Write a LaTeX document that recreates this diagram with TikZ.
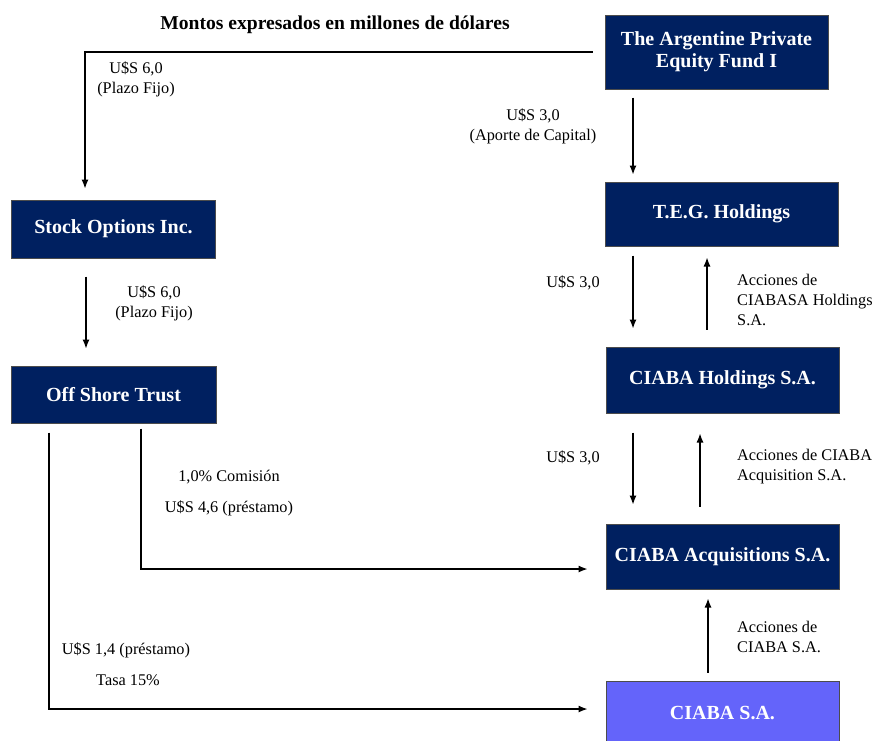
\documentclass[tikz,border=0pt]{standalone}
\usepackage{fontspec}
\setmainfont{Liberation Serif}
\usetikzlibrary{arrows.meta}
\definecolor{navy}{HTML}{002060}
\definecolor{lilac}{HTML}{6464FA}
\begin{document}
\begin{tikzpicture}[x=1pt, y=-1pt, >={Latex[length=9pt, width=7pt]},
        entity/.style={draw=black!70, line width=1pt, fill=navy, text=white, inner sep=0pt,
            align=center, font=\fontsize{20}{22}\selectfont\bfseries},
        lbl/.style={inner sep=0pt, align=center, font=\fontsize{16.3}{20}\selectfont},
        flow/.style={->, line width=1.2pt}]
        \useasboundingbox (0,0) rectangle (878,740);
        \node[font=\fontsize{19.6}{22}\selectfont\bfseries] (title) at (335,25) {Montos expresados en millones de dólares};

        \node[entity, minimum width=223pt, minimum height=74pt] (fund) at (716.5,52) {The Argentine Private\\Equity Fund I};
        \node[entity, minimum width=233pt, minimum height=64pt] (teg) at (721.5,214) {T.E.G. Holdings};
        \node[entity, minimum width=233pt, minimum height=66pt] (hold) at (722.5,380) {CIABA Holdings S.A.};
        \node[entity, minimum width=233pt, minimum height=65pt] (acq) at (722.5,556.5) {CIABA Acquisitions S.A.};
        \node[entity, fill=lilac, minimum width=233pt, minimum height=64pt] (ciaba) at (722.5,713) {CIABA S.A.};
        \node[entity, minimum width=204pt, minimum height=58pt] (stock) at (113.5,229) {Stock Options Inc.};
        \node[entity, minimum width=205pt, minimum height=57pt] (off) at (113.5,394.5) {Off Shore Trust};

        \draw[flow, shorten <=12pt, shorten >=11pt] (fund.west) -| (stock.north -| 85,0);
        \draw[flow, shorten <=8pt, shorten >=7pt] (fund.south -| 633,0) -- (teg.north -| 633,0);
        \draw[flow, shorten <=18pt, shorten >=17pt] (stock.south -| 86,0) -- (off.north -| 86,0);
        \draw[flow, shorten <=9pt, shorten >=18pt] (teg.south -| 633,0) -- (hold.north -| 633,0);
        \draw[flow, shorten <=17pt, shorten >=11pt] (hold.north -| 707,0) -- (teg.south -| 707,0);
        \draw[flow, shorten <=19pt, shorten >=19pt] (hold.south -| 633,0) -- (acq.north -| 633,0);
        \draw[flow, shorten <=17pt, shorten >=20pt] (acq.north -| 700,0) -- (hold.south -| 700,0);
        \draw[flow, shorten <=8pt, shorten >=9pt] (ciaba.north -| 708,0) -- (acq.south -| 708,0);
        \draw[flow, shorten <=5pt, shorten >=18pt] (off.south -| 141,0) |- (acq.west |- 0,569);
        \draw[flow, shorten <=9pt, shorten >=18pt] (off.south -| 49,0) |- (ciaba.west |- 0,709);

        \node[lbl] (plazo1) at (136,79) {U\$S 6,0\\(Plazo Fijo)};
        \node[lbl] (plazo2) at (154,303) {U\$S 6,0\\(Plazo Fijo)};
        \node[lbl] (aporte) at (533,126) {U\$S 3,0\\(Aporte de Capital)};
        \node[lbl] (pago1) at (573,283) {U\$S 3,0};
        \node[lbl] (pago2) at (573,458) {U\$S 3,0};
        \node[lbl, align=left, anchor=west] (acc1) at (737,300) {Acciones de\\CIABASA Holdings\\S.A.};
        \node[lbl, align=left, anchor=west] (acc2) at (737,467) {Acciones de CIABA\\Acquisition S.A.};
        \node[lbl, align=left, anchor=west] (acc3) at (737,637) {Acciones de\\CIABA S.A.};
        \node[lbl] (comision) at (229,477) {1,0\% Comisión};
        \node[lbl] (prest1) at (229,508) {U\$S 4,6 (préstamo)};
        \node[lbl] (prest2) at (126,650) {U\$S 1,4 (préstamo)};
        \node[lbl] (tasa) at (128,680) {Tasa 15\%};
    \end{tikzpicture}
\end{document}
